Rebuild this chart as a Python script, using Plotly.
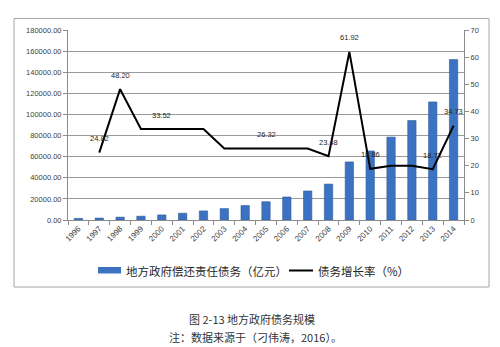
import plotly.graph_objects as go

# Local government repayment-obligation debt (100 million yuan) and its growth rate (%)
years = [str(y) for y in range(1996, 2015)]
debt = [1500, 1800, 2700, 3600, 4800, 6400, 8600, 10800, 13700, 17300,
        21800, 27500, 34000, 55000, 65400, 78500, 94200, 111900, 152000]
growth_years = [str(y) for y in range(1997, 2015)]
growth = [24.82, 48.20, 33.52, 33.52, 33.52, 33.52, 26.32, 26.32, 26.32, 26.32,
          26.32, 23.48, 61.92, 18.86, 20.00, 20.00, 18.72, 34.73]
# years whose growth value is printed on the chart
labelled_years = ["1997", "1998", "2000", "2005", "2008", "2009", "2010", "2013", "2014"]

bar_name = "地方政府偿还责任债务（亿元）"
line_name = "债务增长率（%）"
caption_title = "图 2-13 地方政府债务规模"
caption_note = "注：数据来源于（刁伟涛，2016）。"

W, H = 500, 347
L, R, T, B = 68, 36, 30, 127
pw, ph = W - L - R, H - T - B


def px(x):
    return (x - L) / pw


def py(y):
    return (H - B - y) / ph


tick_font = dict(family="Liberation Sans, Arial, sans-serif", size=7.5, color="#404040")
year_font = dict(family="Liberation Sans, Arial, sans-serif", size=8, color="#404040")
cjk = "Noto Sans CJK SC, sans-serif"

fig = go.Figure()
fig.add_trace(go.Bar(
    x=years, y=debt, name=bar_name,
    marker=dict(color="#3B73C2", line=dict(color="#2C5A9E", width=0.6)),
    showlegend=False,
))
fig.add_trace(go.Scatter(
    x=growth_years, y=growth, name=line_name, yaxis="y2", mode="lines",
    line=dict(color="black", width=2), showlegend=False,
))

annotations = []
for yr, g in zip(growth_years, growth):
    if yr in labelled_years:
        annotations.append(dict(
            x=years.index(yr), y=g, xref="x", yref="y2", text=f"{g:.2f}", showarrow=False,
            yshift=14, font=dict(family="Liberation Sans, Arial, sans-serif", size=7.5, color="#262626"),
        ))

# legend drawn by hand: wide swatch for the bars, short rule for the line
shapes = [
    dict(type="rect", xref="paper", yref="paper", x0=px(14), x1=px(489), y0=py(287), y1=py(18.5),
         line=dict(color="#A6A6A6", width=1), fillcolor="rgba(0,0,0,0)", layer="below"),
    dict(type="rect", xref="paper", yref="paper", x0=px(98), x1=px(121), y0=py(273.5), y1=py(267),
         line=dict(width=0), fillcolor="#3B73C2"),
    dict(type="line", xref="paper", yref="paper", x0=px(289), x1=px(313), y0=py(270.5), y1=py(270.5),
         line=dict(color="black", width=2)),
]
annotations += [
    dict(x=px(124), y=py(270.5), xref="paper", yref="paper", text=bar_name, showarrow=False,
         xanchor="left", yanchor="middle", font=dict(family=cjk, size=11.5, color="#262626")),
    dict(x=px(316), y=py(270.5), xref="paper", yref="paper", text=line_name, showarrow=False,
         xanchor="left", yanchor="middle", font=dict(family=cjk, size=11.5, color="#262626")),
    dict(x=px(252), y=py(319), xref="paper", yref="paper", text=caption_title, showarrow=False,
         xanchor="center", yanchor="middle", font=dict(family=cjk, size=11, color="#333333")),
    dict(x=px(255), y=py(337), xref="paper", yref="paper", text=caption_note, showarrow=False,
         xanchor="center", yanchor="middle", font=dict(family=cjk, size=11, color="#333333")),
]

fig.update_layout(
    width=W, height=H, margin=dict(l=L, r=R, t=T, b=B),
    paper_bgcolor="white", plot_bgcolor="white",
    bargap=0.6,
    xaxis=dict(type="category", range=[-0.5, len(years) - 0.5], tickangle=-45, tickfont=year_font,
               ticks="outside", tickson="boundaries", ticklen=4, tickcolor="#8C8C8C",
               showline=True, linecolor="#8C8C8C", linewidth=1, showgrid=False),
    yaxis=dict(range=[0, 180000], dtick=20000, tickformat=".2f", tickfont=tick_font,
               ticks="outside", ticklen=4, tickcolor="#8C8C8C",
               showline=True, linecolor="#8C8C8C", linewidth=1,
               showgrid=True, gridcolor="#9A9A9A", gridwidth=1, zeroline=False),
    yaxis2=dict(range=[0, 70], dtick=10, overlaying="y", side="right", tickfont=tick_font,
                ticks="outside", ticklen=4, tickcolor="#8C8C8C",
                showline=True, linecolor="#8C8C8C", linewidth=1, showgrid=False, zeroline=False),
    shapes=shapes, annotations=annotations,
)

fig.write_html("out.html")
